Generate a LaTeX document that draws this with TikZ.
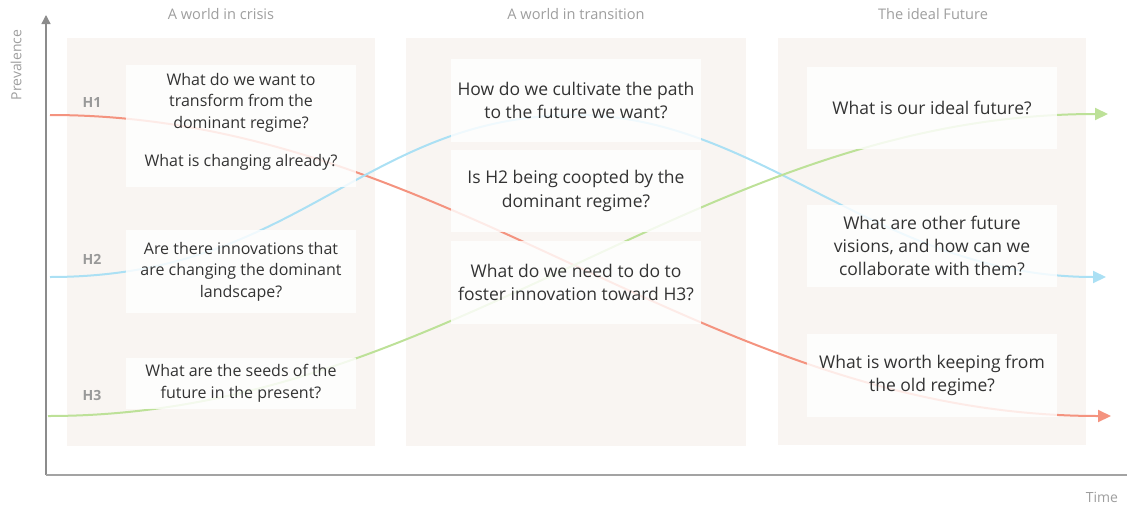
\documentclass[tikz,border=0pt]{standalone}
\usepackage{fontspec}
\setmainfont{Open Sans}
\usetikzlibrary{arrows.meta}
\definecolor{panelbg}{HTML}{F9F5F2}
\definecolor{axisgray}{HTML}{8C8C8C}
\definecolor{labelgray}{HTML}{9E9E9E}
\definecolor{hgray}{HTML}{999999}
\definecolor{txt}{HTML}{333333}
\definecolor{hred}{HTML}{F4937F}
\definecolor{hblue}{HTML}{ABE0F4}
\definecolor{hgreen}{HTML}{BDE198}
\tikzset{
  panel/.style={fill=panelbg, draw=none},
  qbox/.style={fill=white, fill opacity=0.82, text opacity=1, draw=none,
    minimum width=230pt, inner sep=0pt, align=center, text=txt,
    font=\fontsize{16}{21.5}\selectfont},
  qboxw/.style={qbox, minimum width=250pt, font=\fontsize{17.5}{23.2}\selectfont},
  qtext/.style={align=center, text=txt, inner sep=0pt, font=\fontsize{16}{21.5}\selectfont},
  header/.style={text=labelgray, font=\fontsize{14.6}{17}\selectfont},
  axlabel/.style={text=labelgray, font=\fontsize{14}{17}\selectfont},
  hlabel/.style={text=hgray, font=\fontsize{14}{16}\selectfont\bfseries},
  curve/.style={line width=2pt, -{Triangle[length=13pt,width=12pt]}},
}
\begin{document}
\begin{tikzpicture}[x=1pt,y=-1pt]
\useasboundingbox (0,0) rectangle (1127,504);
% panels
\fill[panel] (67,38) rectangle (375,446);
\fill[panel] (406,38) rectangle (746,446);
\fill[panel] (778,38) rectangle (1086,445);
% headers
\node[header] (hd1) at (221,14) {A world in crisis};
\node[header] (hd2) at (576,14) {A world in transition};
\node[header] (hd3) at (933,14) {The ideal Future};
% axes
\coordinate (origin) at (46,475);
\coordinate (ytop) at (46,15);
\coordinate (xend) at (1127,475);
\draw[axisgray, line width=1.3pt, -{Triangle[length=9pt,width=9pt]}] (origin) -- (ytop);
\draw[axisgray!80, line width=1.3pt] (origin) -- (xend);
\node[axlabel, rotate=90] (yl) at (16,65) {Prevalence};
\node[axlabel] (xl) at (1102,497) {Time};
% H labels
\node[hlabel] (l1) at (92,102) {H1};
\node[hlabel] (l2) at (92,259) {H2};
\node[hlabel] (l3) at (92,395) {H3};
% curves
\coordinate (h1s) at (50,115);
\coordinate (h1e) at (1111,416);
\coordinate (h2s) at (50,277);
\coordinate (h2m) at (576,115);
\coordinate (h2e) at (1106,277);
\coordinate (h3s) at (48,416);
\coordinate (h3e) at (1108,114);
\draw[curve, hred] (h1s) .. controls (450,115) and (700,416) .. (h1e);
\draw[curve, hblue] (h2s) .. controls (300,277) and (363,115) .. (h2m) .. controls (760,115) and (880,277) .. (h2e);
\draw[curve, hgreen] (h3s) .. controls (450,416) and (700,114) .. (h3e);
% boxes
\node[qbox, minimum height=122pt] (ba) at (241,126) {};
\node[qtext] (ta) at (241,122) {What do we want to\\transform from the\\dominant regime?\\[17pt]What is changing already?};
\node[qbox, minimum height=83pt] (bb) at (241,271.5) {Are there innovations that\\are changing the dominant\\landscape?};
\node[qbox, minimum height=51pt] (bc) at (241,383.5) {What are the seeds of the\\future in the present?};
\node[qboxw, minimum height=83pt] (bd) at (576,100.5) {How do we cultivate the path\\to the future we want?};
\node[qboxw, minimum height=82pt] (be) at (576,191) {Is H2 being coopted by the\\dominant regime?};
\node[qboxw, minimum height=83pt] (bf) at (576,282.5) {What do we need to do to\\foster innovation toward H3?};
\node[qboxw, minimum height=82pt] (bg) at (932,108) {What is our ideal future?};
\node[qboxw, minimum height=82pt] (bh) at (932,246) {What are other future\\visions, and how can we\\collaborate with them?};
\node[qboxw, minimum height=83pt] (bi) at (932,375.5) {What is worth keeping from\\the old regime?};
\end{tikzpicture}
\end{document}
